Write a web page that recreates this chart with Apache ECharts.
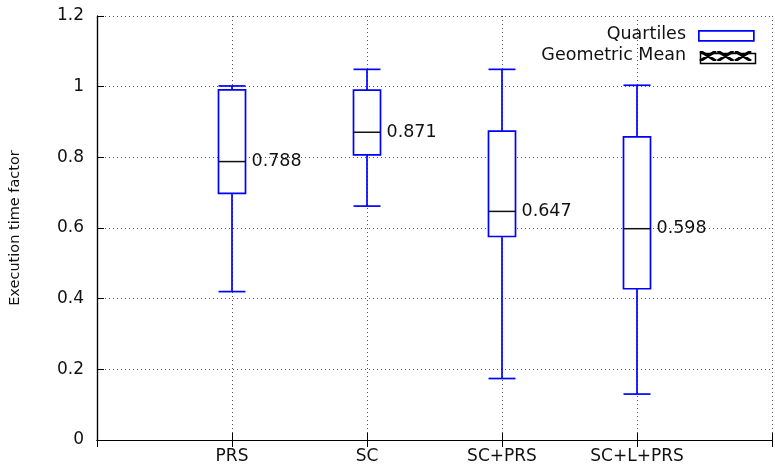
<!DOCTYPE html>
<html>
<head>
<meta charset="utf-8">
<script src="https://cdn.jsdelivr.net/npm/echarts@6/dist/echarts.min.js"></script>
<style>
	html, body { margin: 0; padding: 0; background: #fff; }
	#chart { width: 775px; height: 470px; }
</style>
</head>
<body>
<div id="chart"></div>
<script>
/* 数据 */
const categories = ['PRS', 'SC', 'SC+PRS', 'SC+L+PRS'];
const whiskerLow = [0.42, 0.662, 0.174, 0.13];
const quartile1 = [0.698, 0.807, 0.576, 0.428];
const quartile3 = [0.991, 0.990, 0.874, 0.858];
const whiskerHigh = [1.002, 1.049, 1.049, 1.004];
const geoMean = [0.788, 0.871, 0.647, 0.598];
const yTicks = [0, 0.2, 0.4, 0.6, 0.8, 1, 1.2];

const font = 'DejaVu Sans';
const blue = '#0000ff';
const dotted = { color: '#555', width: 1, type: [1, 3] };

const boxData = categories.map((c, i) => [i + 1, whiskerLow[i], quartile1[i], geoMean[i], quartile3[i], whiskerHigh[i]]);

/* 图例里的交叉纹理：三个粗 X */
const hatch = document.createElement('canvas');
hatch.width = 55;
hatch.height = 10;
{
	const ctx = hatch.getContext('2d');
	ctx.fillStyle = '#fff';
	ctx.fillRect(0, 0, 55, 10);
	ctx.strokeStyle = '#000';
	ctx.lineWidth = 3;
	ctx.beginPath();
	for (let k = 0; k < 3; k++) {
		const x0 = 2 + k * 17.5;
		ctx.moveTo(x0, 0); ctx.lineTo(x0 + 16, 10);
		ctx.moveTo(x0 + 16, 0); ctx.lineTo(x0, 10);
	}
	ctx.stroke();
}

const chart = echarts.init(document.getElementById('chart'));

function renderBox(params, api) {
	const x = api.value(0);
	const half = api.size([0.2, 0])[0] / 2;
	const pLow = api.coord([x, api.value(1)]);
	const pQ1 = api.coord([x, api.value(2)]);
	const pMean = api.coord([x, api.value(3)]);
	const pQ3 = api.coord([x, api.value(4)]);
	const pHigh = api.coord([x, api.value(5)]);
	const cx = pQ1[0];
	const line = { stroke: blue, lineWidth: 1.7 };
	return {
		type: 'group',
		children: [
			{ type: 'line', shape: { x1: cx, y1: pLow[1], x2: cx, y2: pQ1[1] }, style: line },
			{ type: 'line', shape: { x1: cx, y1: pQ3[1], x2: cx, y2: pHigh[1] }, style: line },
			{ type: 'line', shape: { x1: cx - half, y1: pLow[1], x2: cx + half, y2: pLow[1] }, style: line },
			{ type: 'line', shape: { x1: cx - half, y1: pHigh[1], x2: cx + half, y2: pHigh[1] }, style: line },
			{ type: 'rect', shape: { x: cx - half, y: pQ3[1], width: half * 2, height: pQ1[1] - pQ3[1] }, style: { fill: '#fff', stroke: blue, lineWidth: 1.7 } },
			{ type: 'line', shape: { x1: cx - half, y1: pMean[1], x2: cx + half, y2: pMean[1] }, style: { stroke: '#111', lineWidth: 1.5 } },
			{
				type: 'text',
				style: {
					x: cx + half + 6, y: pMean[1],
					text: api.value(3).toFixed(3),
					fill: '#111', font: '17.5px "' + font + '"',
					verticalAlign: 'middle', align: 'left'
				}
			}
		]
	};
}

chart.setOption({
	animation: false,
	grid: { left: 97, right: 1, top: 16, bottom: 30 },
	xAxis: [
		{
			type: 'value', min: 0, max: 5, interval: 1,
			axisLine: { lineStyle: { color: '#000', width: 1.2 } },
			axisTick: { inside: true, length: 7, lineStyle: { color: '#000' } },
			axisLabel: {
				margin: 8, color: '#111', fontSize: 17, fontFamily: font,
				formatter: v => categories[v - 1] || ''
			},
			splitLine: { show: true, lineStyle: dotted }
		},
		{
			type: 'value', position: 'top', min: 0, max: 5, interval: 1,
			axisLine: { show: true, lineStyle: { color: '#000', width: 1.2 } },
			axisTick: { inside: true, length: 7, lineStyle: { color: '#000' } },
			axisLabel: { show: false },
			splitLine: { show: false }
		}
	],
	yAxis: [
		{
			type: 'value', min: yTicks[0], max: yTicks[yTicks.length - 1], interval: 0.2,
			name: 'Execution time factor', nameLocation: 'middle', nameGap: 74,
			nameTextStyle: { color: '#111', fontSize: 14.5, fontFamily: font },
			axisLine: { show: true, lineStyle: { color: '#000', width: 1.2 } },
			axisTick: { inside: true, length: 7, lineStyle: { color: '#000' } },
			axisLabel: { margin: 13, color: '#111', fontSize: 17, fontFamily: font, formatter: v => String(+v.toFixed(1)) },
			splitLine: { show: true, lineStyle: dotted }
		},
		{
			type: 'value', position: 'right', min: 0, max: 1.2, interval: 0.2,
			axisLine: { show: true, lineStyle: { color: '#000', width: 1.2 } },
			axisTick: { show: false },
			axisLabel: { show: false },
			splitLine: { show: false }
		}
	],
	graphic: [
		{ type: 'text', right: 89, top: 25, style: { text: 'Quartiles', fill: '#111', font: '17.5px "' + font + '"' } },
		{ type: 'rect', left: 698, top: 30, shape: { width: 55, height: 10 }, style: { fill: '#fff', stroke: blue, lineWidth: 1.7 } },
		{ type: 'text', right: 89, top: 46, style: { text: 'Geometric Mean', fill: '#111', font: '17.5px "' + font + '"' } },
		{ type: 'image', left: 698, top: 51, style: { image: hatch, width: 55, height: 10 } },
		{ type: 'rect', left: 698, top: 51, shape: { width: 55, height: 10 }, style: { fill: 'none', stroke: '#000', lineWidth: 1.5 } }
	],
	series: [
		{
			type: 'custom',
			renderItem: renderBox,
			encode: { x: 0, y: [1, 2, 3, 4, 5] },
			data: boxData,
			clip: false
		}
	]
});
</script>
</body>
</html>
